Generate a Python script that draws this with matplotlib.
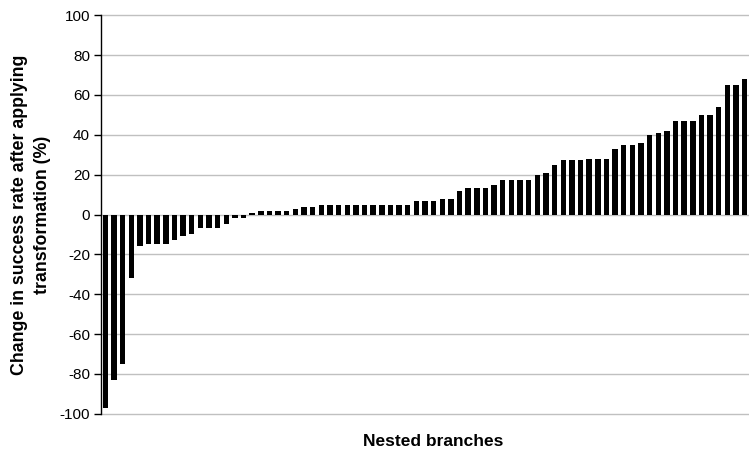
import matplotlib
matplotlib.use("Agg")
import matplotlib.pyplot as plt
import numpy as np

plt.rcParams['font.family'] = ['Liberation Sans', 'DejaVu Sans']

values = [-97, -83, -75, -32, -16, -15, -15, -15, -13, -11, -10, -7, -7, -7, -5,
          -2, -2, 1, 2, 2, 2, 2, 3, 4, 4,
          5, 5, 5, 5, 5, 5, 5, 5, 5, 5, 5,
          7, 7, 7, 8, 8, 12, 13.5, 13.5, 13.5, 15,
          17.5, 17.5, 17.5, 17.5, 20, 21, 25, 27.5, 27.5, 27.5, 28, 28, 28,
          33, 35, 35, 36, 40, 41, 42, 47, 47, 47, 50, 50, 54, 65, 65, 68]
yticks = [-100, -80, -60, -40, -20, 0, 20, 40, 60, 80, 100]
ylabel = "Change in success rate after applying\ntransformation (%)"
xlabel = "Nested branches"

W, H = 749, 451
fig = plt.figure(figsize=(W / 100, H / 100), dpi=100)
ax = fig.add_axes([101/W, 1 - 413.7/H, 648/W, (413.7 - 15.3)/H])

x = np.arange(len(values))
ax.bar(x, values, width=0.63, color='black', zorder=3)
ax.set_xlim(-0.5, len(values) - 0.5)
ax.set_ylim(-100, 100)
ax.set_yticks(yticks)
ax.set_yticklabels([str(t) for t in yticks], fontsize=11)
ax.set_xticks([])
ax.yaxis.grid(True, color='#c0c0c0', linewidth=1.0, zorder=0)
for gl in ax.get_ygridlines():
    gl.set_clip_on(False)
ax.set_axisbelow(True)
for s in ['top', 'right', 'bottom']:
    ax.spines[s].set_visible(False)
ax.spines['left'].set_linewidth(1.0)
ax.tick_params(axis='y', direction='out', length=5, width=1, pad=3)

fig.text(31/W, 1 - 215/H, ylabel, rotation=90, ha='center', va='center',
         multialignment='center', fontsize=12.8, fontweight='bold', linespacing=1.45)
fig.text(433/W, 1 - 441/H, xlabel, ha='center', va='center',
         fontsize=12.5, fontweight='bold')

fig.savefig("out.png", dpi=100)
